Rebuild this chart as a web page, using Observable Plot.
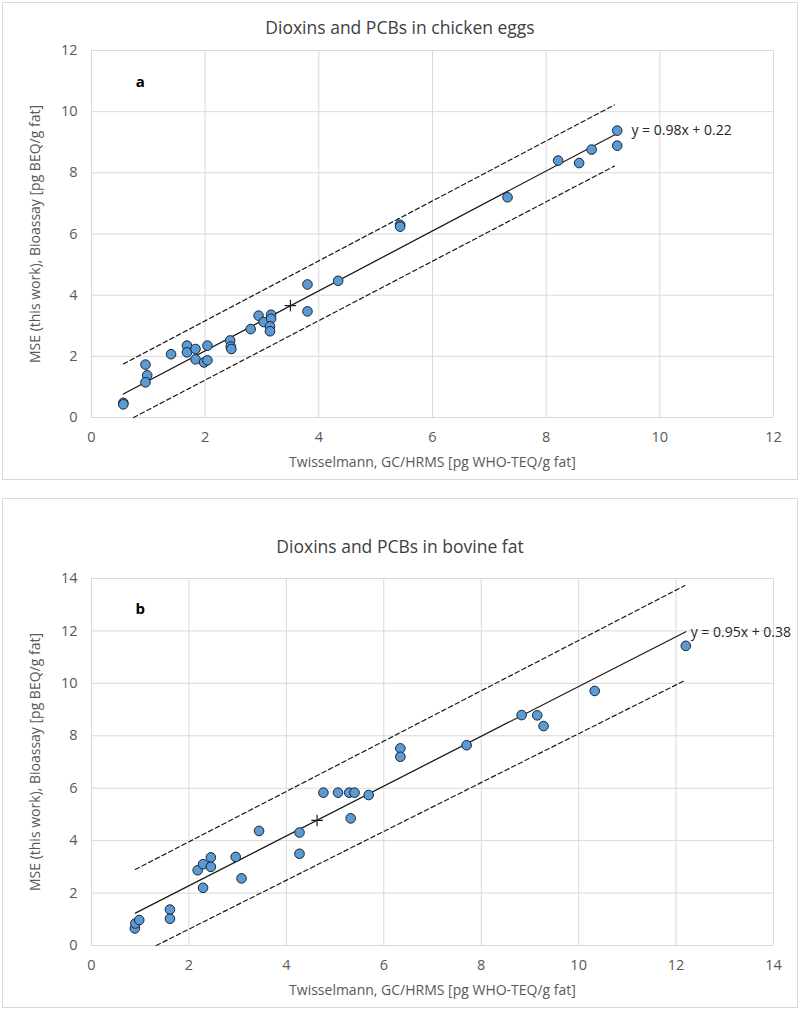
<!DOCTYPE html>
<html><head><meta charset="utf-8">
<script src="https://cdn.jsdelivr.net/npm/d3@7"></script>
<script src="https://cdn.jsdelivr.net/npm/@observablehq/plot@0.6"></script>
<style>
body{margin:0;background:#fff;font-family:"Open Sans",sans-serif;}
.panel{position:absolute;left:2px;width:796px;border:1px solid #d9d9d9;box-sizing:border-box;background:#fff;overflow:hidden;}
.title{box-sizing:border-box;text-align:center;font-size:17.5px;line-height:22px;color:#404040;}
.panel svg{display:block;}
</style></head><body>
<div id="pa" class="panel" style="top:2px;height:478px"><div class="title" style="height:37px;padding-top:13px"></div></div>
<div id="pb" class="panel" style="top:498px;height:510px"><div class="title" style="height:69px;padding-top:36px"></div></div>
<script>
// ---- data ----
const titleA = "Dioxins and PCBs in chicken eggs";
const titleB = "Dioxins and PCBs in bovine fat";
const xTitle = "Twisselmann, GC/HRMS [pg WHO-TEQ/g fat]";
const yTitle = "MSE (this work), Bioassay [pg BEQ/g fat]";
const ticksA = [0, 2, 4, 6, 8, 10, 12];
const ticksB = [0, 2, 4, 6, 8, 10, 12, 14];

const eggsGC  = [0.56, 0.56, 0.95, 0.98, 0.95, 1.40, 1.68, 1.68, 1.83, 1.83, 2.04, 1.98, 2.04, 2.44, 2.45, 2.46, 2.80, 2.94, 3.03, 3.16, 3.16, 3.14, 3.14, 3.80, 3.80, 4.34, 5.43, 5.43, 7.32, 8.21, 8.58, 8.80, 9.25, 9.25];
const eggsMSE = [0.48, 0.43, 1.73, 1.38, 1.15, 2.07, 2.35, 2.13, 2.24, 1.90, 2.35, 1.80, 1.87, 2.52, 2.32, 2.24, 2.89, 3.33, 3.12, 3.36, 3.23, 2.98, 2.82, 4.35, 3.47, 4.47, 6.30, 6.24, 7.20, 8.40, 8.32, 8.76, 9.38, 8.89];

const fatGC  = [0.89, 0.90, 0.98, 1.61, 1.61, 2.18, 2.29, 2.45, 2.45, 2.29, 2.96, 3.08, 3.44, 4.27, 4.27, 4.76, 5.06, 5.29, 5.40, 5.69, 5.32, 6.34, 6.34, 7.70, 8.83, 9.15, 9.28, 10.33, 12.20];
const fatMSE = [0.65, 0.84, 0.97, 1.37, 1.02, 2.87, 3.10, 3.36, 3.00, 2.20, 3.38, 2.56, 4.37, 4.31, 3.50, 5.83, 5.83, 5.83, 5.83, 5.74, 4.85, 7.52, 7.20, 7.64, 8.79, 8.78, 8.37, 9.71, 11.43];

// regression fits (panel a, panel b)
const fitSlope = [0.98, 0.95];
const fitIntercept = [0.22, 0.38];
const fitFrom = [0.56, 0.90];
const fitTo = [9.25, 12.20];
const fitText = ["y = 0.98x + 0.22", "y = 0.95x + 0.38"];
const fitTextAt = [[9.50, 9.38], [12.30, 11.95]];
// dashed limit lines: [x, y] end points
const upperA = [[0.56, 1.75], [9.20, 10.22]];
const lowerA = [[0.74, 0.00], [9.20, 8.22]];
const upperB = [[0.90, 2.90], [12.18, 13.73]];
const lowerB = [[1.33, 0.00], [12.20, 10.13]];
// mean markers
const meanA = [3.50, 3.66];
const meanB = [4.63, 4.77];
// panel letters
const letters = ["a", "b"];
const letterAt = [[0.86, 10.95], [1.00, 12.82]];

// ---- drawing ----
function panel(el, title, ticks, gx, gy, i, upper, lower, mean) {
  el.querySelector(".title").textContent = title;
  const pts = gx.map((x, k) => ({x, y: gy[k]}));
  const fit = [fitFrom[i], fitTo[i]].map(x => ({x, y: fitSlope[i] * x + fitIntercept[i]}));
  const toPts = a => a.map(([x, y]) => ({x, y}));
  const dom = [ticks[0], ticks[ticks.length - 1]];
  const svg = Plot.plot({
    width: 794, height: 439,
    marginLeft: 88, marginRight: 24, marginTop: 10, marginBottom: 62,
    style: {fontFamily: '"Open Sans", sans-serif', fontSize: "14.5px", color: "#595959", background: "#fff", overflow: "visible"},
    x: {domain: dom},
    y: {domain: dom},
    marks: [
      Plot.gridX(ticks, {stroke: "#d9d9d9", strokeOpacity: 1, strokeWidth: 1}),
      Plot.gridY(ticks, {stroke: "#d9d9d9", strokeOpacity: 1, strokeWidth: 1}),
      Plot.axisX({ticks, tickSize: 0, tickPadding: 14, label: null, fill: "#595959", fontSize: 14.5}),
      Plot.axisY({ticks, tickSize: 0, tickPadding: 14, label: null, fill: "#595959", fontSize: 14.5}),
      Plot.line(toPts(upper), {x: "x", y: "y", stroke: "#1a1a1a", strokeWidth: 1.2, strokeDasharray: "4.5,3"}),
      Plot.line(toPts(lower), {x: "x", y: "y", stroke: "#1a1a1a", strokeWidth: 1.2, strokeDasharray: "4.5,3"}),
      Plot.line(fit, {x: "x", y: "y", stroke: "#1a1a1a", strokeWidth: 1.3}),
      Plot.dot(pts, {x: "x", y: "y", r: 4.8, fill: "#5B9BD5", stroke: "#1b2230", strokeWidth: 1}),
      Plot.dot([mean], {x: d => d[0], y: d => d[1], symbol: "plus", r: 3.8, stroke: "#1a1a1a", strokeWidth: 1.2, fill: "none"}),
      Plot.text([fitText[i]], {x: fitTextAt[i][0], y: fitTextAt[i][1], text: d => d, textAnchor: "start", fill: "#262626", fontSize: 14}),
      Plot.text([letters[i]], {x: letterAt[i][0], y: letterAt[i][1], text: d => d, fill: "#000", fontWeight: "bold", fontSize: 15}),
      Plot.text([xTitle], {text: d => d, frameAnchor: "bottom", dy: 45, textAnchor: "middle", lineAnchor: "middle", fill: "#595959", fontSize: 14}),
      Plot.text([yTitle], {text: d => d, frameAnchor: "left", dx: -56, rotate: -90, textAnchor: "middle", lineAnchor: "middle", fill: "#595959", fontSize: 14})
    ]
  });
  el.appendChild(svg);
}
panel(document.getElementById("pa"), titleA, ticksA, eggsGC, eggsMSE, 0, upperA, lowerA, meanA);
panel(document.getElementById("pb"), titleB, ticksB, fatGC, fatMSE, 1, upperB, lowerB, meanB);
</script>
</body></html>
